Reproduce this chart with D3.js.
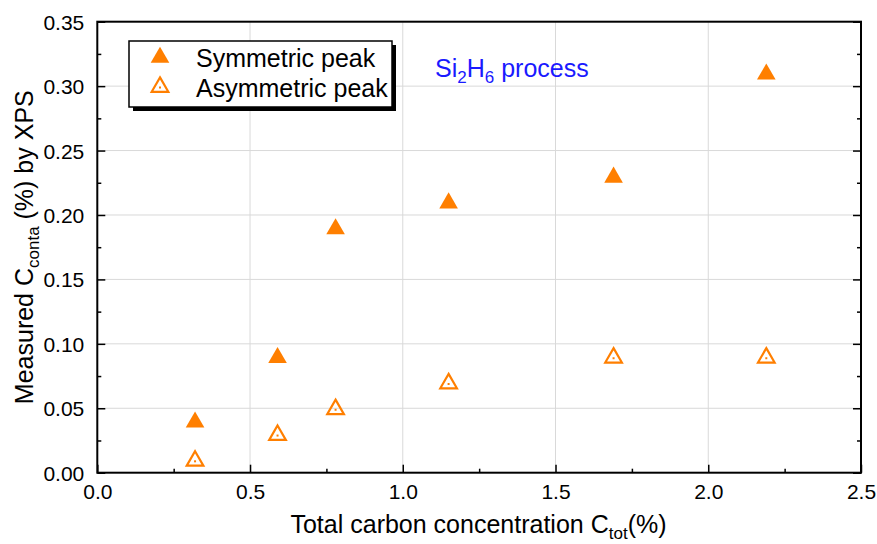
<!DOCTYPE html>
<html><head><meta charset="utf-8">
<script src="https://cdn.jsdelivr.net/npm/d3@7"></script>
<style>body{margin:0;background:#fff}svg{font-family:"Liberation Sans",Arial,sans-serif}</style>
</head><body><svg id="c" width="877" height="544"></svg>
<script>
const xVals = [0.32, 0.59, 0.78, 1.15, 1.69, 2.19];
const symmetric = [0.04, 0.09, 0.19, 0.21, 0.23, 0.31];
const asymmetric = [0.01, 0.03, 0.05, 0.07, 0.09, 0.09];
const xTicks = [0.0, 0.5, 1.0, 1.5, 2.0, 2.5];
const yTicks = [0.00, 0.05, 0.10, 0.15, 0.20, 0.25, 0.30, 0.35];
const seriesNames = ["Symmetric peak", "Asymmetric peak"];

const svg = d3.select("#c");
const FF = "Liberation Sans, Arial, sans-serif";
const L = 97.3, R = 861, T = 21.7, B = 472.7;
const x = d3.scaleLinear().domain([0, 2.5]).range([L, R]);
const y = d3.scaleLinear().domain([0, 0.35]).range([B, T]);
const orange = "#ff7f00";

// grid
svg.append("g").selectAll("line").data(xTicks.slice(1, -1)).join("line")
  .attr("x1", d => x(d)).attr("x2", d => x(d)).attr("y1", T).attr("y2", B)
  .attr("stroke", "#d9d9d9").attr("stroke-width", 1);
svg.append("g").selectAll("line").data(yTicks.slice(1, -1)).join("line")
  .attr("y1", d => y(d)).attr("y2", d => y(d)).attr("x1", L).attr("x2", R)
  .attr("stroke", "#d9d9d9").attr("stroke-width", 1);

// axes
const minorX = d3.range(0.25, 2.5, 0.5);
const minorY = d3.range(0.025, 0.35, 0.05);
function axisG(axis, tr) {
  const g = svg.append("g").attr("transform", tr).call(axis);
  g.select(".domain").remove();
  g.selectAll("line").attr("stroke", "#000").attr("stroke-width", 1.5);
  return g;
}
const xb = axisG(d3.axisBottom(x).tickValues(xTicks).tickSize(-8).tickFormat(d3.format(".1f")), `translate(0,${B})`);
xb.selectAll("text").attr("font-size", 21).attr("fill", "#000").attr("font-family", FF)
  .attr("dy", null).attr("y", 26.5);
axisG(d3.axisBottom(x).tickValues(minorX).tickSize(-4).tickFormat(""), `translate(0,${B})`);
const yl = axisG(d3.axisLeft(y).tickValues(yTicks).tickSize(-8).tickFormat(d3.format(".2f")), `translate(${L},0)`);
yl.selectAll("text").attr("font-size", 21).attr("fill", "#000").attr("font-family", FF)
  .attr("x", -13).attr("dy", "0.36em");
axisG(d3.axisLeft(y).tickValues(minorY).tickSize(-4).tickFormat(""), `translate(${L},0)`);
axisG(d3.axisRight(y).tickValues(yTicks).tickSize(-8).tickFormat(""), `translate(${R},0)`);
axisG(d3.axisRight(y).tickValues(minorY).tickSize(-4).tickFormat(""), `translate(${R},0)`);

svg.append("rect").attr("x", L).attr("y", T).attr("width", R - L).attr("height", B - T)
  .attr("fill", "none").attr("stroke", "#000").attr("stroke-width", 2);

// markers
const tri = d3.symbol().type(d3.symbolTriangle);
function filledTri(g, cx, cy, s) {
  g.append("path").attr("d", tri.size(s)()).attr("transform", `translate(${cx},${cy + 1})`).attr("fill", orange);
}
function openTri(g, cx, cy, s) {
  g.append("path").attr("d", tri.size(s)()).attr("transform", `translate(${cx},${cy + 1})`)
    .attr("fill", "none").attr("stroke", orange).attr("stroke-width", 2.2);
  g.append("rect").attr("x", cx - 1).attr("y", cy + 0.5).attr("width", 2).attr("height", 2).attr("fill", orange);
}
const mg = svg.append("g");
xVals.forEach((xv, i) => filledTri(mg, x(xv), y(symmetric[i]), 150));
xVals.forEach((xv, i) => openTri(mg, x(xv), y(asymmetric[i]), 120));

// legend
const lg = svg.append("g");
lg.append("rect").attr("x", 133).attr("y", 45).attr("width", 263).attr("height", 66).attr("fill", "#000");
lg.append("rect").attr("x", 129).attr("y", 41).attr("width", 263).attr("height", 66).attr("fill", "#fff").attr("stroke", "#000").attr("stroke-width", 1.5);
filledTri(lg, 160, 56.5, 150);
openTri(lg, 160, 86, 120);
lg.append("text").attr("x", 196).attr("y", 66.5).attr("font-size", 25).text(seriesNames[0]);
lg.append("text").attr("x", 196).attr("y", 96.5).attr("font-size", 25).text(seriesNames[1]);

// annotation
const ann = svg.append("text").attr("x", 435).attr("y", 77).attr("font-size", 25).attr("fill", "#1a1aff");
ann.append("tspan").text("Si");
ann.append("tspan").attr("font-size", 17).attr("dy", 6).text("2");
ann.append("tspan").attr("dy", -6).text("H");
ann.append("tspan").attr("font-size", 17).attr("dy", 6).text("6");
ann.append("tspan").attr("dy", -6).text(" process");

// axis titles
const xt = svg.append("text").attr("x", 478.5).attr("y", 533).attr("text-anchor", "middle").attr("font-size", 25);
xt.append("tspan").text("Total carbon concentration C");
xt.append("tspan").attr("font-size", 17).attr("dy", 6).text("tot");
xt.append("tspan").attr("dy", -6).text("(%)");

const yt = svg.append("text").attr("transform", `translate(33,${(T + B) / 2}) rotate(-90)`).attr("text-anchor", "middle").attr("font-size", 25);
yt.append("tspan").text("Measured C");
yt.append("tspan").attr("font-size", 17).attr("dy", 6).text("conta");
yt.append("tspan").attr("dy", -6).text(" (%) by XPS");
</script></body></html>
